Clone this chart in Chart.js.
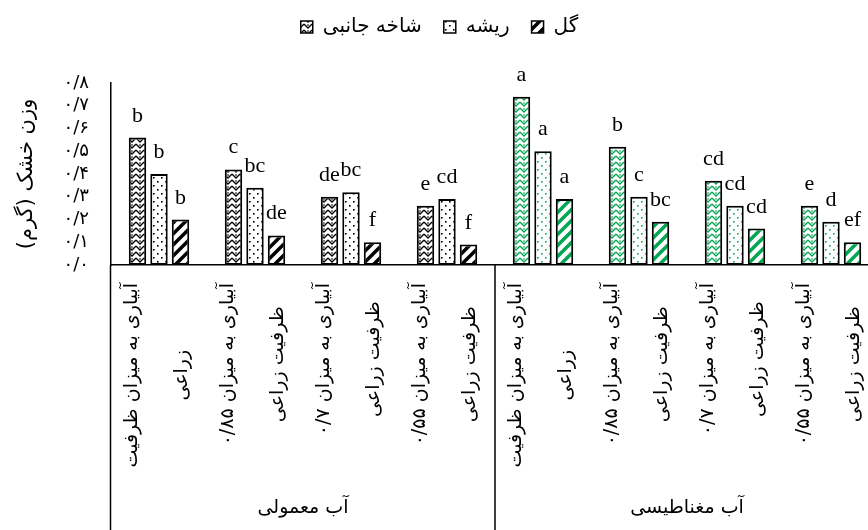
<!DOCTYPE html>
<html>
<head>
<meta charset="utf-8">
<script src="https://cdn.jsdelivr.net/npm/chart.js@4.4.1/dist/chart.umd.min.js"></script>
<style>
  html, body { margin: 0; padding: 0; background: #fff; overflow: hidden; }
  #wrap { width: 868px; height: 530px; overflow: hidden; }
</style>
</head>
<body>
<div id="wrap"><canvas id="barCanvas" width="880" height="530"></canvas></div>
<script>
// data
const categories = [
  ['آبیاری به میزان ظرفیت', 'زراعی'],
  ['آبیاری به میزان ۰/۸۵', 'ظرفیت زراعی'],
  ['آبیاری به میزان ۰/۷', 'ظرفیت زراعی'],
  ['آبیاری به میزان ۰/۵۵', 'ظرفیت زراعی'],
  ['آبیاری به میزان ظرفیت', 'زراعی'],
  ['آبیاری به میزان ۰/۸۵', 'ظرفیت زراعی'],
  ['آبیاری به میزان ۰/۷', 'ظرفیت زراعی'],
  ['آبیاری به میزان ۰/۵۵', 'ظرفیت زراعی']
];
const waterGroups = ['آب معمولی', 'آب مغناطیسی'];
const seriesNames = ['شاخه جانبی', 'ریشه', 'گل'];

const shakhe = [0.56, 0.42, 0.30, 0.26, 0.74, 0.52, 0.37, 0.26];
const risheh = [0.40, 0.34, 0.32, 0.29, 0.50, 0.30, 0.26, 0.19];
const gol = [0.20, 0.13, 0.10, 0.09, 0.29, 0.19, 0.16, 0.10];

const shakheLetters = ['b', 'c', 'de', 'e', 'a', 'b', 'cd', 'e'];
const rishehLetters = ['b', 'bc', 'bc', 'cd', 'a', 'c', 'cd', 'd'];
const golLetters = ['b', 'de', 'f', 'f', 'a', 'bc', 'cd', 'ef'];

const yTickLabels = ['۰/۰', '۰/۱', '۰/۲', '۰/۳', '۰/۴', '۰/۵', '۰/۶', '۰/۷', '۰/۸'];

const BLACK = '#000000';
const GREEN = '#00a651';
const FA_FONT = '"DejaVu Sans"';

// hatch fills
function makePattern(kind, color) {
  const c = document.createElement('canvas');
  const ctx = c.getContext('2d');
  if (kind === 'chevron') {
    c.width = 8; c.height = 6;
    ctx.fillStyle = '#fff'; ctx.fillRect(0, 0, 8, 6);
    ctx.strokeStyle = color; ctx.lineWidth = 1.3;
    ctx.beginPath();
    ctx.moveTo(0, 0); ctx.lineTo(4, 4); ctx.lineTo(8, 0);
    ctx.moveTo(0, 6); ctx.lineTo(4, 10); ctx.lineTo(8, 6);
    ctx.stroke();
    ctx.fillStyle = color;
    ctx.fillRect(3.3, 0.3, 1.4, 1.4);
  } else if (kind === 'dots') {
    c.width = 8; c.height = 8;
    ctx.fillStyle = '#fff'; ctx.fillRect(0, 0, 8, 8);
    ctx.fillStyle = color;
    ctx.fillRect(1, 1, 1.6, 1.6);
    ctx.fillRect(5, 5, 1.6, 1.6);
  } else {
    c.width = 11; c.height = 11;
    ctx.fillStyle = '#fff'; ctx.fillRect(0, 0, 11, 11);
    ctx.strokeStyle = color; ctx.lineWidth = 3.5;
    ctx.beginPath();
    ctx.moveTo(-6, 6); ctx.lineTo(6, -6);
    ctx.moveTo(0, 11); ctx.lineTo(11, 0);
    ctx.moveTo(5, 17); ctx.lineTo(17, 5);
    ctx.stroke();
  }
  return ctx.createPattern(c, 'repeat');
}

const kinds = ['chevron', 'dots', 'stripes'];
const blackFills = kinds.map(k => makePattern(k, BLACK));
const greenFills = kinds.map(k => makePattern(k, GREEN));
const fillsFor = k => categories.map((_, i) => i < 4 ? blackFills[k] : greenFills[k]);

const seriesValues = [shakhe, risheh, gol];
const seriesLetters = [shakheLetters, rishehLetters, golLetters];

const lettersPlugin = {
  id: 'letters',
  afterDatasetsDraw(chart) {
    const ctx = chart.ctx;
    ctx.save();
    ctx.font = '22px "Liberation Serif"';
    ctx.fillStyle = '#000';
    ctx.textAlign = 'center';
    ctx.textBaseline = 'alphabetic';
    chart.data.datasets.forEach((ds, d) => {
      chart.getDatasetMeta(d).data.forEach((bar, i) => {
        ctx.fillText(seriesLetters[d][i], bar.x, bar.y - 16);
      });
    });
    ctx.restore();
  }
};

const labelsPlugin = {
  id: 'catLabels',
  afterDraw(chart) {
    const ctx = chart.ctx;
    const x = chart.scales.x;
    const area = chart.chartArea;
    const bottom = chart.height;
    const divider = x.getPixelForValue(3.5);
    ctx.save();
    ctx.strokeStyle = '#000';
    ctx.lineWidth = 1.5;
    ctx.beginPath();
    ctx.moveTo(area.left - 0.5, area.bottom);
    ctx.lineTo(area.left - 0.5, bottom);
    ctx.moveTo(divider, area.bottom);
    ctx.lineTo(divider, bottom);
    ctx.stroke();

    ctx.fillStyle = '#000';
    ctx.direction = 'rtl';
    ctx.textAlign = 'center';
    ctx.textBaseline = 'middle';
    ctx.font = '19px ' + FA_FONT;
    const offsets = [-27, 23];
    categories.forEach((lines, i) => {
      const cx = x.getPixelForTick(i);
      const w = Math.max(...lines.map(l => ctx.measureText(l).width));
      const cy = area.bottom + 18 + w / 2;
      lines.forEach((line, j) => {
        ctx.save();
        ctx.translate(cx + offsets[j], cy);
        ctx.rotate(-Math.PI / 2);
        ctx.fillText(line, 0, 0);
        ctx.restore();
      });
    });

    ctx.font = '19px ' + FA_FONT;
    ctx.fillText(waterGroups[0], (area.left + divider) / 2, 508);
    ctx.fillText(waterGroups[1], (divider + area.right) / 2, 508);
    ctx.restore();
  }
};

const legendSpace = {
  id: 'legendSpace',
  afterInit(chart) {
    const fit = chart.legend.fit;
    chart.legend.fit = function () {
      fit.call(this);
      this.height = 88;
    };
  }
};

const barCanvas = document.getElementById('barCanvas');

const barChart = new Chart(barCanvas, {
  type: 'bar',
  data: {
    labels: categories.map(c => c.join(' ')),
    datasets: seriesNames.map((name, k) => ({
      label: name,
      data: seriesValues[k],
      backgroundColor: fillsFor(k),
      borderColor: '#000',
      borderWidth: 2,
      borderSkipped: false,
      categoryPercentage: 0.672,
      barPercentage: 0.81
    }))
  },
  options: {
    responsive: false,
    animation: false,
    layout: { padding: { left: 0, right: 1, top: -5, bottom: 0 } },
    plugins: {
      tooltip: { enabled: false },
      legend: {
        position: 'top',
        labels: {
          color: '#000',
          font: { family: FA_FONT, size: 20 },
          boxWidth: 12,
          boxHeight: 12,
          padding: 22,
          generateLabels: () => seriesNames.map((name, k) => ({
            text: name,
            fillStyle: blackFills[k],
            strokeStyle: '#000',
            lineWidth: 1.5,
            hidden: false,
            datasetIndex: k
          }))
        }
      }
    },
    scales: {
      x: {
        grid: { display: false, drawTicks: false },
        border: { display: true, color: '#000', width: 1.5 },
        ticks: { display: false },
        afterFit: s => { s.height = 265; }
      },
      y: {
        min: 0,
        max: 0.8,
        grid: { display: false, drawTicks: false },
        border: { display: true, color: '#000', width: 1.5 },
        ticks: {
          stepSize: 0.1,
          autoSkip: false,
          padding: 22,
          color: '#000',
          font: { family: FA_FONT, size: 18 },
          callback: (v, i) => yTickLabels[i]
        },
        title: {
          display: true,
          text: 'وزن خشک (گرم)',
          color: '#000',
          font: { family: FA_FONT, size: 21 },
          padding: { top: 14, bottom: 0 }
        },
        afterFit: s => { s.width = 111; }
      }
    }
  },
  plugins: [legendSpace, lettersPlugin, labelsPlugin]
});
</script>
</body>
</html>
